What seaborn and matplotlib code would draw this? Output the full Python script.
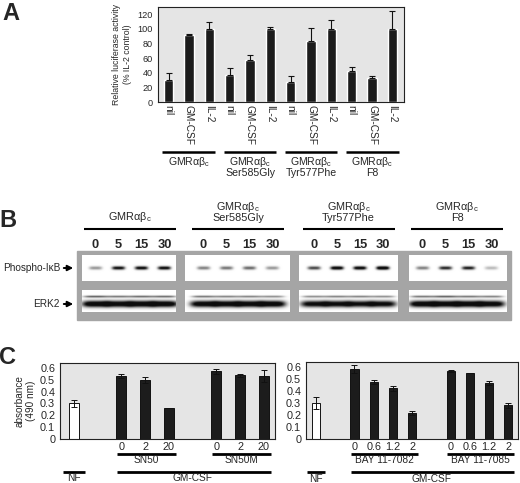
import numpy as np
import matplotlib
matplotlib.use('Agg')
import matplotlib.pyplot as plt
import seaborn as sns

sns.set_style('white')
plt.rcParams['font.family'] = ['Liberation Sans', 'DejaVu Sans']
plt.rcParams['mathtext.fontset'] = 'custom'
plt.rcParams['mathtext.rm'] = 'Liberation Sans'

# ---- data ----
# panel A: luciferase activity
treat_a = ['nil', 'GM-CSF', 'IL-2'] * 4
luc_mean = [30, 92, 100, 37, 57, 100, 28, 83, 100, 43, 33, 100]
luc_err = [10, 1, 9, 10, 7, 3, 8, 18, 12, 5, 3, 24]
receptors = [r'GMRαβ$_\mathregular{c}$'] * 4
mutants = ['', 'Ser585Gly', 'Tyr577Phe', 'F8']

# panel B: blot band intensities (0 = none, 1 = saturated)
times_b = ['0', '5', '15', '30']
pikb_int = [[0.45, 1.1, 1.15, 1.15],
            [0.55, 0.6, 0.65, 0.45],
            [0.8, 1.3, 1.25, 1.4],
            [0.55, 0.95, 1.0, 0.3]]
erk_upper = [[0.7, 0.6, 0.65, 0.65],
             [0.6, 0.55, 0.55, 0.5],
             [0.5, 0.55, 0.55, 0.5],
             [0.6, 0.7, 0.6, 0.55]]
erk_main = [[1.3, 1.25, 1.3, 1.3],
            [1.25, 1.25, 1.25, 1.3],
            [1.15, 1.15, 1.1, 1.15],
            [1.3, 1.3, 1.3, 1.25]]

# panel C: absorbance
sn_pos = [0, 2, 3, 4, 6, 7, 8]
sn_mean = [0.30, 0.53, 0.50, 0.265, 0.57, 0.535, 0.53]
sn_err = [0.03, 0.015, 0.025, 0.0, 0.02, 0.015, 0.05]
sn_ticks = ['0', '2', '20', '0', '2', '20']
sn_groups = ['SN50', 'SN50M']

bay_pos = [0, 2, 3, 4, 5, 7, 8, 9, 10]
bay_mean = [0.30, 0.58, 0.475, 0.42, 0.215, 0.565, 0.55, 0.465, 0.28]
bay_err = [0.05, 0.035, 0.015, 0.02, 0.015, 0.01, 0.0, 0.02, 0.02]
bay_ticks = ['0', '0.6', '1.2', '2', '0', '0.6', '1.2', '2']
bay_groups = ['BAY 11-7082', 'BAY 11-7085']

W, H = 520, 483
fig = plt.figure(figsize=(W / 100, H / 100), dpi=100)


def px_axes(l, t, r, b):
    return fig.add_axes([l / W, 1 - b / H, (r - l) / W, (b - t) / H])


def style_axes(ax):
    ax.set_facecolor('#e5e5e5')
    for s in ax.spines.values():
        s.set_color('#222222')
        s.set_linewidth(0.8)


# ---------------- panel A ----------------
ax_a = px_axes(158, 7, 404, 102)
style_axes(ax_a)
pos_a = np.arange(len(luc_mean))
sns.barplot(x=pos_a, y=luc_mean, native_scale=True, color='#1c1c1c',
            saturation=1, width=0.45, errorbar=None, ax=ax_a)
ax_a.errorbar(pos_a, luc_mean, yerr=[np.zeros(len(luc_err)), luc_err],
              fmt='none', ecolor='#111111', elinewidth=0.8, capsize=2.5, capthick=0.8)
ax_a.set_xlim(-0.52, 11.57)
ax_a.set_ylim(0, 130)
ax_a.set_yticks(range(0, 121, 20))
ax_a.tick_params(axis='y', labelsize=6.6, length=2, pad=1.5)
ax_a.set_xticks(pos_a, treat_a, rotation=-90, fontsize=7.3)
ax_a.tick_params(axis='x', length=0, pad=2.5)
ax_a.set_ylabel('Relative luciferase activity\n(% IL-2 control)', fontsize=6.3,
                labelpad=4, linespacing=1.25)
tr = ax_a.get_xaxis_transform()
for g in range(4):
    c = 3 * g + 1
    ax_a.plot([c - 1.3, c + 1.3], [-0.526, -0.526], transform=tr, clip_on=False,
              color='k', lw=1.8, solid_capstyle='butt')
    ax_a.text(c, -0.628, receptors[g], transform=tr, ha='center', va='center', fontsize=7.6)
    if mutants[g]:
        ax_a.text(c, -0.75, mutants[g], transform=tr, ha='center', va='center', fontsize=7.6)

# ---------------- panel B (blot) ----------------
ax_b = px_axes(0, 195, W, 330)
ax_b.axis('off')
grp_c = [130, 238, 348.5, 457]
box_l = [82, 185, 299, 409]
box_r = [176, 290, 398, 507]
lane_off = [-34.5, -11.5, 11.5, 34.5]
ax_b.add_patch(plt.Rectangle((77, 251), 434, 69, color='#a5a5a5', zorder=0))


def blot(x0, x1, y0, y1, lanes, bands):
    xs = np.linspace(x0, x1, 220)
    ys = np.linspace(y0, y1, 70)
    X, Y = np.meshgrid(xs, ys)
    dark = np.zeros_like(X)
    for yc, sx, sy, ints in bands:
        for lx, a in zip(lanes, ints):
            dark += a * np.exp(-((X - lx) / sx) ** 4) * np.exp(-((Y - yc) / sy) ** 2)
    img = np.clip(1 - 0.95 * dark, 0.05, 1)
    ax_b.imshow(img, extent=(x0, x1, y1, y0), cmap='gray', vmin=0, vmax=1,
                aspect='auto', interpolation='bilinear', zorder=1)


for g in range(4):
    lanes = [grp_c[g] + o for o in lane_off]
    blot(box_l[g], box_r[g], 255, 281, lanes, [(268, 6.5, 1.7, pikb_int[g])])
    blot(box_l[g], box_r[g], 290, 312, lanes,
         [(296.5, 12, 1.0, erk_upper[g]), (304, 13.5, 3.2, erk_main[g])])
    for lx, t in zip(lanes, times_b):
        ax_b.text(lx, 245, t, ha='center', va='center', fontsize=9.3, fontweight='bold')
    ax_b.plot([grp_c[g] - 46, grp_c[g] + 46], [229, 229], color='k', lw=1.5,
              solid_capstyle='butt')
    if mutants[g]:
        ax_b.text(grp_c[g], 207, receptors[g], ha='center', va='center', fontsize=7.8)
        ax_b.text(grp_c[g], 218, mutants[g], ha='center', va='center', fontsize=7.8)
    else:
        ax_b.text(grp_c[g], 217, receptors[g], ha='center', va='center', fontsize=7.8)

for lab, y in [('Phospho-IκB', 268), ('ERK2', 304)]:
    ax_b.annotate('', xy=(76, y), xytext=(61, y),
                  arrowprops=dict(arrowstyle='-|>', color='k', lw=1.4, mutation_scale=8))
    ax_b.text(60, y, lab, ha='right', va='center', fontsize=7.2)
ax_b.set_xlim(0, W)
ax_b.set_ylim(330, 195)

# ---------------- panel C ----------------
def absorb_panel(ax, pos, mean, err, ticks, groups, members):
    style_axes(ax)
    kind = ['NF'] + ['GM'] * (len(pos) - 1)
    sns.barplot(x=pos, y=mean, hue=kind, native_scale=True, dodge=False,
                palette={'NF': 'white', 'GM': '#1c1c1c'}, saturation=1, width=0.42,
                edgecolor='#111111', linewidth=0.7, errorbar=None, legend=False, ax=ax)
    ax.errorbar(pos, mean, yerr=err, fmt='none', ecolor='#111111', elinewidth=0.7,
                capsize=2, capthick=0.7, zorder=5)
    ax.set_ylim(0, 0.64)
    ax.set_yticks(np.arange(0, 0.61, 0.1), ['0', '0.1', '0.2', '0.3', '0.4', '0.5', '0.6'])
    ax.tick_params(axis='y', labelsize=7.8, length=2, pad=1.5)
    ax.set_xticks(pos[1:], ticks, fontsize=7.8)
    ax.tick_params(axis='x', length=0, pad=2)
    trc = ax.get_xaxis_transform()
    for name, mem in zip(groups, members):
        ax.plot([mem[0] - 0.2, mem[-1] + 0.3], [-0.197, -0.197], transform=trc,
                clip_on=False, color='k', lw=2, solid_capstyle='butt')
        ax.text((mem[0] + mem[-1]) / 2 + 0.05, -0.276, name, transform=trc,
                ha='center', va='center', fontsize=7.3)
    ax.plot([members[0][0] - 0.2, members[-1][-1] + 0.3], [-0.434, -0.434], transform=trc,
            clip_on=False, color='k', lw=2, solid_capstyle='butt')
    ax.text((members[0][0] + members[-1][-1]) / 2, -0.513, 'GM-CSF', transform=trc,
            ha='center', va='center', fontsize=7.3)
    ax.plot([pos[0] - 0.45, pos[0] + 0.45], [-0.434, -0.434], transform=trc,
            clip_on=False, color='k', lw=2, solid_capstyle='butt')
    ax.text(pos[0], -0.513, 'NF', transform=trc, ha='center', va='center', fontsize=7.3)


ax_c1 = px_axes(60, 363, 275, 439)
absorb_panel(ax_c1, sn_pos, sn_mean, sn_err, sn_ticks, sn_groups, [sn_pos[1:4], sn_pos[4:]])
ax_c1.set_xlim(-0.59, 8.47)
ax_c1.set_ylabel('absorbance\n(490 nm)', fontsize=7.2, labelpad=3, linespacing=1.1)

ax_c2 = px_axes(306, 362, 518, 439)
absorb_panel(ax_c2, bay_pos, bay_mean, bay_err, bay_ticks, bay_groups,
             [bay_pos[1:5], bay_pos[5:]])
ax_c2.set_xlim(-0.52, 10.5)
ax_c2.set_ylabel('')

# panel letters
for letter, x, y in [('A', 11, 13), ('B', 8, 221), ('C', 8, 357)]:
    fig.text(x / W, 1 - y / H, letter, ha='center', va='center', fontsize=17,
             fontweight='bold')

fig.savefig('out.png', dpi=100)
